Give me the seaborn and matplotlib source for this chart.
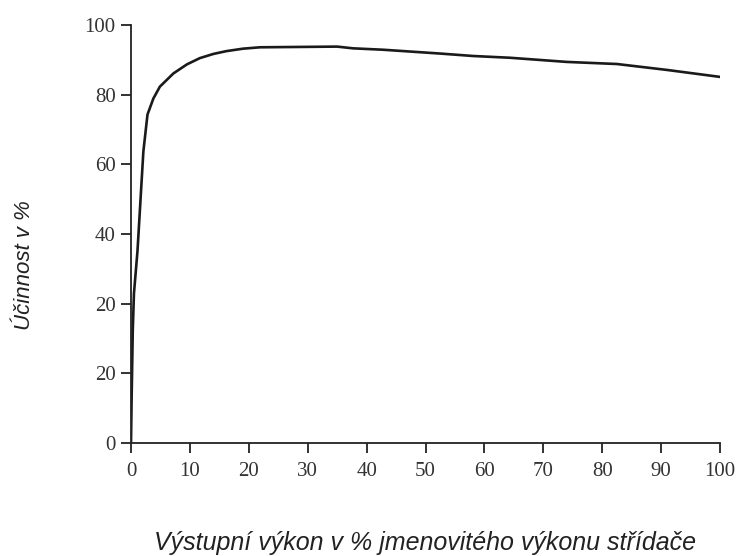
import matplotlib
matplotlib.use("Agg")
import matplotlib.pyplot as plt
import seaborn as sns
import pandas as pd

# Data (output power % vs efficiency %)
vykon = [0, 0.1, 0.3, 0.5, 1.1, 1.6, 2.1, 2.8, 3.8, 4.9, 7.2, 9.5, 11.7, 14.0,
         16.2, 19.0, 21.9, 35.0, 37.7, 42.8, 52.5, 58.1, 64.3, 74.0, 82.5,
         91.0, 100]
ucinnost = [-20, -7.7, 12.3, 22.9, 35.1, 49.4, 63.7, 74.3, 78.9, 82.3, 86.1,
            88.7, 90.5, 91.7, 92.5, 93.2, 93.6, 93.8, 93.3, 92.9, 91.8, 91.1,
            90.6, 89.4, 88.8, 87.1, 85.1]

x_ticks = [0, 10, 20, 30, 40, 50, 60, 70, 80, 90, 100]
y_tick_pos = [-20, 0, 20, 40, 60, 80, 100]
y_tick_labels = ["0", "20", "20", "40", "60", "80", "100"]

xlabel = "Výstupní výkon v % jmenovitého výkonu střídače"
ylabel = "Účinnost v %"

df = pd.DataFrame({"vykon": vykon, "ucinnost": ucinnost})

sns.set_style("ticks")
fig = plt.figure(figsize=(7.4, 5.56), dpi=100)
ax = fig.add_axes([131 / 740, 1 - 443 / 556, (720 - 131) / 740, (443 - 25) / 556])

sns.lineplot(data=df, x="vykon", y="ucinnost", ax=ax, color="#1a1a1a",
             linewidth=1.9, sort=False)

ax.set_xlim(0, 100)
ax.set_ylim(-20, 100)
ax.set_xticks(x_ticks)
ax.set_xticklabels([str(t) for t in x_ticks])
ax.set_yticks(y_tick_pos)
ax.set_yticklabels(y_tick_labels)

sns.despine(ax=ax)
for s in ["left", "bottom"]:
    ax.spines[s].set_linewidth(1.3)
    ax.spines[s].set_color("#222222")

ax.tick_params(axis="both", direction="out", length=7, width=1.3,
               color="#222222", labelsize=15, labelcolor="#333333")
ax.tick_params(axis="x", pad=7)
ax.tick_params(axis="y", pad=4)
for lab in ax.get_xticklabels() + ax.get_yticklabels():
    lab.set_family("Liberation Serif")

ax.set_xlabel(xlabel, family="Liberation Sans", style="italic", fontsize=18,
              color="#222222", va="center", ha="center")
ax.set_ylabel(ylabel, family="Liberation Sans", style="italic", fontsize=16,
              color="#222222", va="center", ha="center")
ax.xaxis.set_label_coords(0.5, (443 - 543) / 418)
ax.yaxis.set_label_coords((25 - 131) / 589, (443 - 265) / 418)

fig.savefig("out.png", dpi=100)
